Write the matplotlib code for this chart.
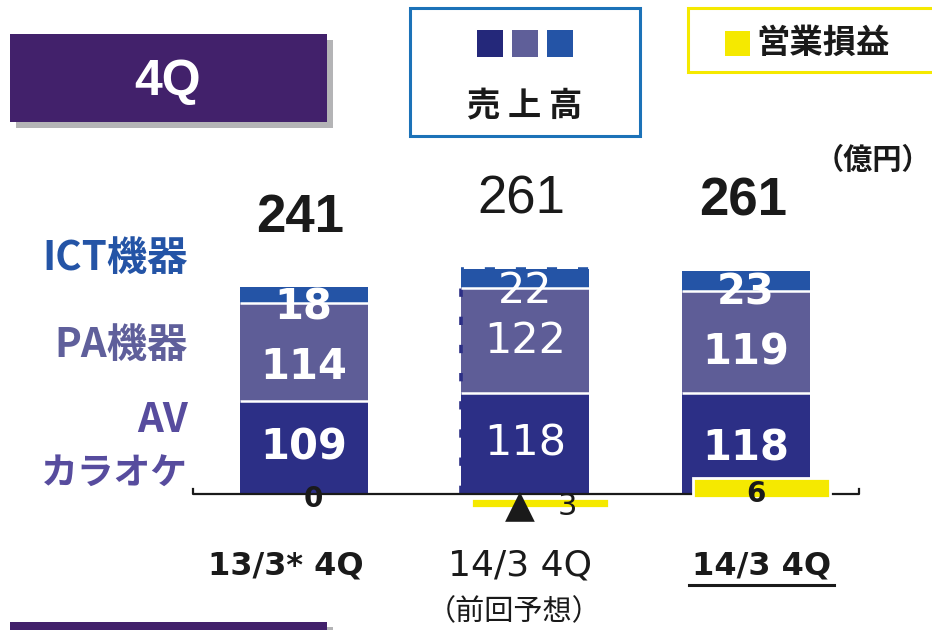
import matplotlib
matplotlib.use('Agg')
import matplotlib.pyplot as plt
import matplotlib.transforms as mtransforms
from matplotlib.patches import Rectangle
from matplotlib.lines import Line2D
import numpy as np

# 売上高（億円）セグメント別 / 営業損益
categories = ['13/3* 4Q', '14/3 4Q', '14/3 4Q']
cat_sub = ['', '（前回予想）', '']
av_karaoke = [109, 118, 118]
pa_equipment = [114, 122, 119]
ict_equipment = [18, 22, 23]
totals = [241, 261, 261]
op_income = [0, -3, 6]

is_forecast = [False, True, False]

W, H = 932, 630
JP = ['Noto Sans CJK JP', 'DejaVu Sans']

C_AV = '#2c2f86'
C_PA = '#5e5d97'
C_ICT = '#2454a6'
C_OP = '#f5e900'
C_TXT = '#1a1a1a'


def fx(px):
    return px / W


def fy(py):
    return 1 - py / H


def box(x0, y0, x1, y1, **kw):
    r = Rectangle((fx(x0), fy(y1)), (x1 - x0) / W, (y1 - y0) / H,
                  transform=fig.transFigure, **kw)
    fig.add_artist(r)
    return r


fig = plt.figure(figsize=(W / 100, H / 100), dpi=100)

# 棒グラフ本体
ax = fig.add_axes([fx(193), fy(494), fx(859) - fx(193), (494 - 140) / H])
ax.set_xlim(-0.5, 2.51)
ax.set_ylim(0, 413)
ax.axis('off')

x = np.arange(len(categories))
bw = 0.578
series = [(av_karaoke, C_AV), (pa_equipment, C_PA), (ict_equipment, C_ICT)]
bottom = np.zeros(len(x))
for vals, col in series:
    ax.bar(x, vals, bw, bottom=bottom, color=col, linewidth=0, zorder=3)
    bottom = bottom + np.array(vals)

# 予想値の棒は左辺と上辺を破線で囲む
for i in range(len(x)):
    if is_forecast[i]:
        xl = i - bw / 2
        ax.plot([xl, xl], [0, bottom[i]], color=C_AV, lw=2.6,
                linestyle=(0, (2.3, 5.5)), zorder=4, solid_capstyle='butt')
        ax.plot([xl, i + bw / 2], [bottom[i], bottom[i]], color=C_ICT, lw=2.6,
                linestyle=(2, (2.8, 5.8)), zorder=4)

# セグメント間の白線
cum1 = np.array(av_karaoke)
cum2 = cum1 + np.array(pa_equipment)
for c in (cum1, cum2):
    ax.hlines(c, x - bw / 2, x + bw / 2, color='white', lw=1.8, zorder=5)

# 基準線
ax.plot([0, 0, 1, 1], [0.014, 0, 0, 0.014], transform=ax.transAxes,
        color=C_TXT, lw=1.6, clip_on=False, zorder=5)

# セグメントの数値
av_dy = [0, 0, -4]
pa_dy = [-11, 0, -8]
ict_dy = [-3, -2, -1]
for i in range(len(x)):
    wt = 'normal' if is_forecast[i] else 'bold'
    fs = 31 if is_forecast[i] else 30
    kw = dict(ha='center', va='center', color='white', fontsize=fs,
              fontweight=wt, textcoords='offset points', zorder=6)
    ax.annotate(str(av_karaoke[i]), (i, av_karaoke[i] / 2), xytext=(0, av_dy[i]), **kw)
    ax.annotate(str(pa_equipment[i]), (i, cum1[i] + pa_equipment[i] / 2),
                xytext=(0, pa_dy[i]), **kw)
    ax.annotate(str(ict_equipment[i]), (i, cum2[i]), xytext=(0, ict_dy[i]), **kw)
    # 合計
    ax.annotate(str(totals[i]), (i - 0.015, bottom[i]), xytext=(0, 40),
                textcoords='offset points', ha='center', va='baseline',
                fontsize=38, family='Liberation Sans', fontweight=wt, color=C_TXT)

# 営業損益（別スケール、ゼロは基準線のやや下）
ax2 = ax.twinx()
ax2.set_ylim(4 / 3.4, (354 + 4) / 3.4)
ax2.axis('off')
op_dx = 0.068
ax2.bar(x + op_dx, op_income, 0.62, color=C_OP, edgecolor='white',
        linewidth=[2 if v else 0 for v in op_income], zorder=3, clip_on=False)
for i, v in enumerate(op_income):
    if v < 0:
        ax2.text(i - 0.022, v / 2 - 0.6, '▲', ha='center', va='center',
                 fontsize=28, color=C_TXT, zorder=6, clip_on=False)
        ax2.text(i + 0.19, v / 2 - 0.9, str(abs(v)), ha='center', va='center',
                 fontsize=22, color=C_TXT, zorder=6, clip_on=False)
    else:
        ax2.text(i + 0.045, v * 0.25 - 0.3, str(v), ha='center', va='center',
                 fontsize=20, fontweight='bold', color=C_TXT, zorder=6, clip_on=False)

# 期間ラベル
tr = mtransforms.blended_transform_factory(ax.transData, fig.transFigure)
cat_dx = [-0.08, -0.02, 0.07]
cat_txt = []
for i, lab in enumerate(categories):
    t = ax.text(i + cat_dx[i], fy(566), lab, transform=tr, ha='center', va='center',
                fontsize=26 if is_forecast[i] else 23,
                fontweight='normal' if is_forecast[i] else 'bold', color=C_TXT)
    cat_txt.append(t)
    if cat_sub[i]:
        ax.text(i + cat_dx[i] - 0.03, fy(612), cat_sub[i], transform=tr,
                ha='center', va='center', fontsize=21, family=JP, color=C_TXT)

# 左側のセグメント名
fig.text(fx(188), fy(259), 'ICT機器', ha='right', va='center', fontsize=29,
         fontweight='bold', family=JP, color=C_ICT)
fig.text(fx(188), fy(345), 'PA機器', ha='right', va='center', fontsize=29,
         fontweight='bold', family=JP, color='#5f5f9b')
fig.text(fx(188), fy(420), 'AV', ha='right', va='center', fontsize=29,
         fontweight='bold', family=JP, color='#574c9e')
fig.text(fx(188), fy(474), 'カラオケ', ha='right', va='center', fontsize=26.5,
         fontweight='bold', family=JP, color='#574c9e')

# 単位
fig.text(fx(931), fy(160), '（億円）', ha='right', va='center', fontsize=21,
         fontweight='bold', family=JP, color=C_TXT)

# タイトル
box(16, 40, 333, 128, color='#b4b4b6', lw=0)
box(10, 34, 327, 122, color='#42216b', lw=0)
fig.text(fx(168), fy(82), '4Q', ha='center', va='center', fontsize=36,
         fontweight='bold', family='Liberation Sans', color='white')
box(16, 627, 333, 640, color='#b4b4b6', lw=0)
box(10, 622, 327, 640, color='#42216b', lw=0)

# 凡例
box(410, 8, 640, 136, facecolor='white', edgecolor='#1c72b8', lw=2.2)
for (x0, col) in [(477, '#24287a'), (512, '#5f5f99'), (547, C_ICT)]:
    box(x0, 30, x0 + 26, 57, color=col, lw=0)
fig.text(fx(525), fy(106), '売 上 高', ha='center', va='center', fontsize=24,
         fontweight='bold', family=JP, color=C_TXT)

box(688, 8, 945, 72, facecolor='white', edgecolor=C_OP, lw=2.2)
box(725, 31, 750, 56, color=C_OP, lw=0)
fig.text(fx(756), fy(43), '営業損益', ha='left', va='center', fontsize=24,
         fontweight='bold', family=JP, color=C_TXT)

# 実績ラベルの下線
fig.canvas.draw()
bb = cat_txt[2].get_window_extent().transformed(fig.transFigure.inverted())
fig.add_artist(Line2D([bb.x0 - 0.003, bb.x1 + 0.003], [bb.y0 - 0.006] * 2,
                      transform=fig.transFigure, color=C_TXT, lw=2.2))

fig.savefig('out.png', dpi=100)
